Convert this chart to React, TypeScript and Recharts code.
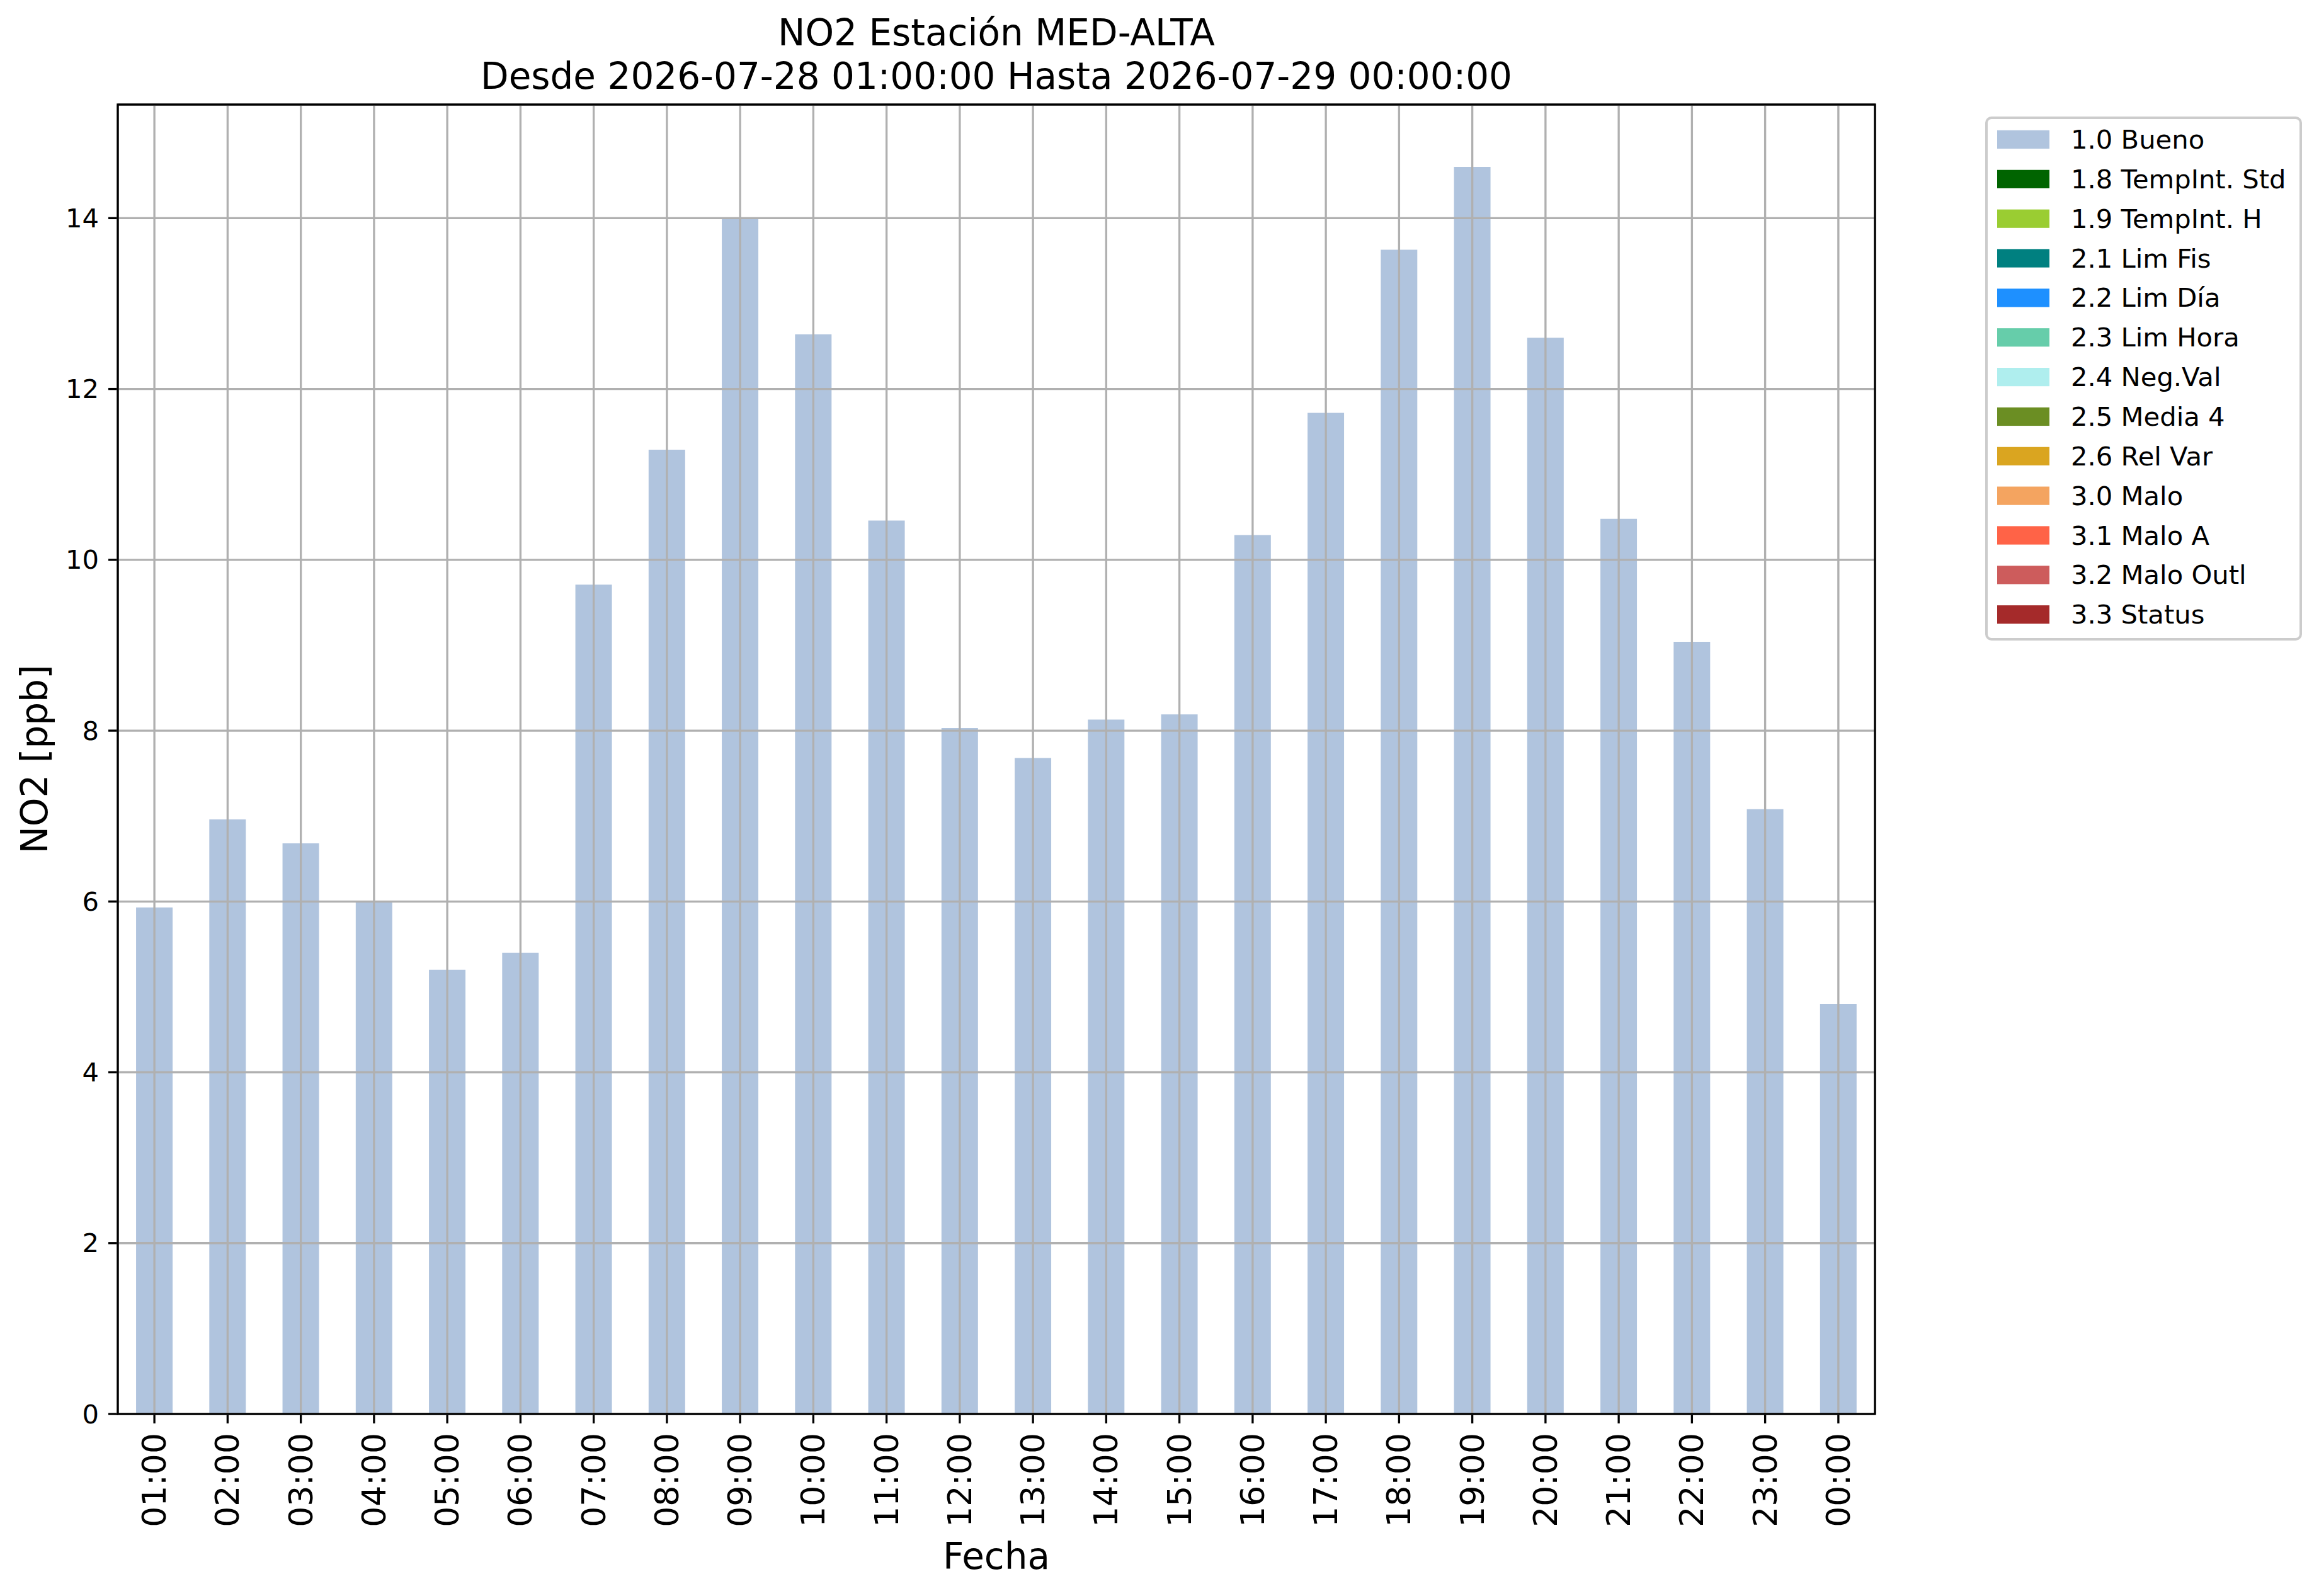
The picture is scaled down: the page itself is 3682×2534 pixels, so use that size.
import React from "react";
import { BarChart, Bar, XAxis, YAxis, CartesianGrid, Legend } from "recharts";

if (typeof document !== "undefined") {
  document.body.style.margin = "0";
}

const W = 3682;
const H = 2534;
const FONT = "DejaVu Sans";

const hours = [
  "01:00", "02:00", "03:00", "04:00", "05:00", "06:00", "07:00", "08:00",
  "09:00", "10:00", "11:00", "12:00", "13:00", "14:00", "15:00", "16:00",
  "17:00", "18:00", "19:00", "20:00", "21:00", "22:00", "23:00", "00:00",
];
const no2Values = [
  5.93, 6.96, 6.68, 6.0, 5.2, 5.4, 9.71, 11.29,
  14.0, 12.64, 10.46, 8.03, 7.68, 8.13, 8.19, 10.29,
  11.72, 13.63, 14.6, 12.6, 10.48, 9.04, 7.08, 4.8,
];
const yTicks = [0, 2, 4, 6, 8, 10, 12, 14];
const flagLabels = [
  "1.0 Bueno", "1.8 TempInt. Std", "1.9 TempInt. H", "2.1 Lim Fis", "2.2 Lim Día",
  "2.3 Lim Hora", "2.4 Neg.Val", "2.5 Media 4", "2.6 Rel Var", "3.0 Malo",
  "3.1 Malo A", "3.2 Malo Outl", "3.3 Status",
];
const flagColors = [
  "#b0c4de", "#006400", "#9acd32", "#008080", "#1e90ff",
  "#66cdaa", "#afeeee", "#6b8e23", "#daa520", "#f4a460",
  "#ff6347", "#cd5c5c", "#a52a2a",
];
const titleLines = [
  "NO2 Estación MED-ALTA",
  "Desde 2026-07-28 01:00:00 Hasta 2026-07-29 00:00:00",
];
const xLabel = "Fecha";
const yLabel = "NO2 [ppb]";

const data = hours.map((h, i) => ({ hour: h, bueno: no2Values[i] }));
const yMax = Math.max(...no2Values) * 1.05;

const MARGIN_TOP = 166;
const MARGIN_RIGHT = 705;
const X_AXIS_H = 289;
const Y_AXIS_W = 187;
const PLOT_W = W - Y_AXIS_W - MARGIN_RIGHT;
const PLOT_H = H - MARGIN_TOP - X_AXIS_H;
const LW = 3.33;

const XTick = (props: any) => {
  const { x, y, payload } = props;
  return (
    <text
      x={x}
      y={y}
      transform={`rotate(-90, ${x}, ${y})`}
      textAnchor="end"
      dominantBaseline="central"
      fontFamily={FONT}
      fontSize={52}
      fill="#000"
    >
      {payload.value}
    </text>
  );
};

const YTick = (props: any) => {
  const { x, y, payload } = props;
  return (
    <text
      x={x}
      y={y}
      textAnchor="end"
      dominantBaseline="central"
      fontFamily={FONT}
      fontSize={41.7}
      fill="#000"
    >
      {payload.value}
    </text>
  );
};

const LegendBox = () => {
  const rowH = 62.85;
  return (
    <svg width={504} height={834} style={{ display: "block" }}>
      <rect x={2} y={2} width={499} height={828} rx={8} ry={8} fill="#fff" fillOpacity={0.8} stroke="#cccccc" strokeWidth={4} />
      {flagLabels.map((lab, i) => {
        const cy = 36.5 + i * rowH;
        return (
          <g key={lab}>
            <rect x={19} y={cy - 14.6} width={83} height={29.2} fill={flagColors[i]} />
            <text x={136} y={cy} dominantBaseline="central" fontFamily={FONT} fontSize={41.7} fill="#000">
              {lab}
            </text>
          </g>
        );
      })}
    </svg>
  );
};

const XLabelContent = (props: any) => {
  const vb = props.viewBox || {};
  return (
    <text x={vb.x + vb.width / 2} y={vb.y + 246} textAnchor="middle" fontFamily={FONT} fontSize={58} fill="#000">
      {xLabel}
    </text>
  );
};

const YLabelContent = (props: any) => {
  const vb = props.viewBox || {};
  const x = vb.x + 75;
  const y = vb.y + vb.height / 2;
  return (
    <text x={x} y={y} transform={`rotate(-90, ${x}, ${y})`} textAnchor="middle" fontFamily={FONT} fontSize={58} fill="#000">
      {yLabel}
    </text>
  );
};

export default function App() {
  const spine = { stroke: "#000", strokeWidth: LW };
  const cx = Y_AXIS_W + PLOT_W / 2;
  return (
    <div style={{ position: "relative", width: W, height: H, background: "#fff", overflow: "hidden" }}>
      <div style={{ position: "absolute", left: 0, top: 0 }}>
        <BarChart
          width={W}
          height={H}
          data={data}
          margin={{ top: MARGIN_TOP, right: MARGIN_RIGHT, bottom: 0, left: 0 }}
          barCategoryGap="25%"
        >
          <XAxis
            dataKey="hour"
            height={X_AXIS_H}
            interval={0}
            tickSize={15}
            tickMargin={15}
            axisLine={false}
            tickLine={spine}
            tick={<XTick />}
            label={{ content: <XLabelContent /> } as any}
          />
          <YAxis
            width={Y_AXIS_W}
            domain={[0, yMax]}
            ticks={yTicks}
            allowDataOverflow
            tickSize={15}
            tickMargin={15}
            axisLine={false}
            tickLine={spine}
            tick={<YTick />}
            label={{ content: <YLabelContent /> } as any}
          />
          <Bar dataKey="bueno" name={flagLabels[0]} fill={flagColors[0]} isAnimationActive={false} />
          <Legend
            layout="vertical"
            align="center"
            verticalAlign="middle"
            wrapperStyle={{ left: 3152, top: 185, width: 504, height: 834 }}
            content={<LegendBox />}
          />
        </BarChart>
      </div>
      <div style={{ position: "absolute", left: 0, top: 0, pointerEvents: "none" }}>
        <BarChart
          width={W}
          height={H}
          data={data}
          margin={{ top: MARGIN_TOP, right: MARGIN_RIGHT, bottom: X_AXIS_H, left: Y_AXIS_W }}
          barCategoryGap="25%"
        >
          <CartesianGrid stroke="#b0b0b0" strokeWidth={LW} />
          <XAxis dataKey="hour" hide interval={0} />
          <YAxis domain={[0, yMax]} ticks={yTicks} allowDataOverflow hide />
          <Bar dataKey="bueno" fill="transparent" isAnimationActive={false} />
        </BarChart>
      </div>
      <svg
        width={W}
        height={H}
        style={{ position: "absolute", left: 0, top: 0, pointerEvents: "none" }}
      >
        <rect x={Y_AXIS_W} y={MARGIN_TOP} width={PLOT_W} height={PLOT_H} fill="none" stroke="#000" strokeWidth={LW} />
        <text x={cx} y={72} textAnchor="middle" fontFamily={FONT} fontSize={58} fill="#000">
          {titleLines[0]}
        </text>
        <text x={cx} y={141} textAnchor="middle" fontFamily={FONT} fontSize={58} fill="#000">
          {titleLines[1]}
        </text>
      </svg>
    </div>
  );
}
